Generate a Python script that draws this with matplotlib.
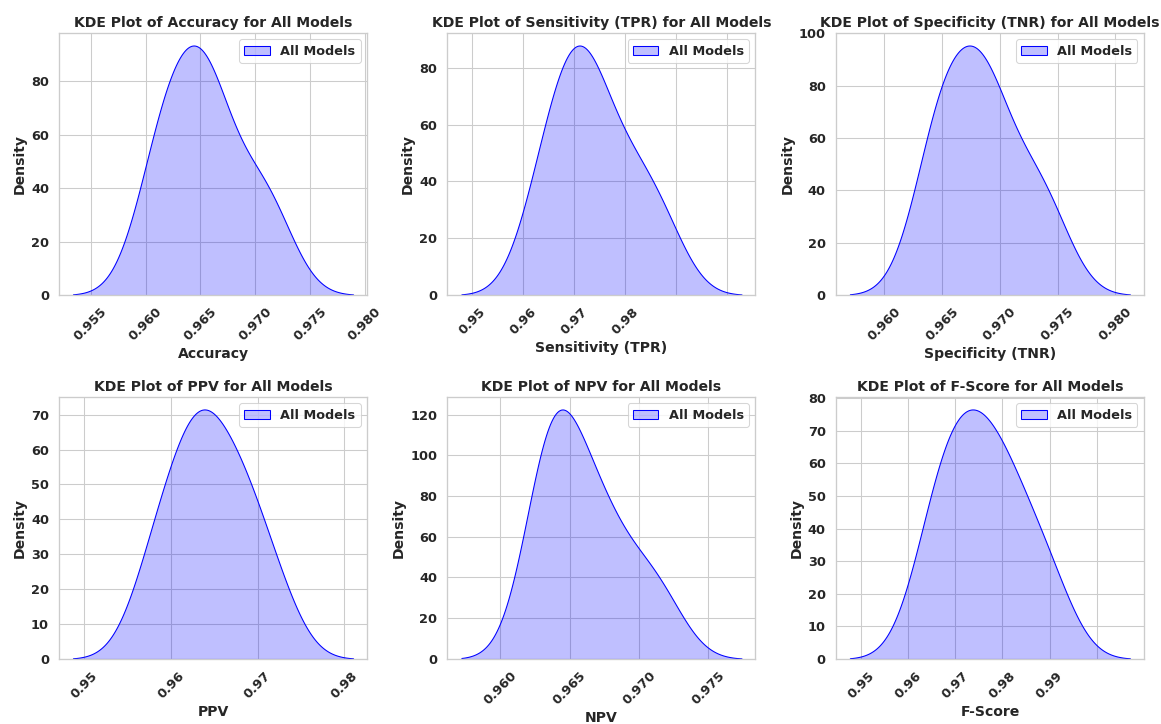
import matplotlib
matplotlib.use("Agg")
import matplotlib.pyplot as plt
import seaborn as sns
from matplotlib.ticker import FixedLocator, FixedFormatter

# per-model scores (estimated from the reference curves)
accuracy = [0.96067, 0.96206, 0.96302, 0.96521, 0.96558, 0.96603, 0.96946, 0.97164]
sensitivity = [0.96173, 0.96311, 0.96531, 0.96589, 0.96600, 0.96865, 0.97084, 0.97360]
specificity = [0.96398, 0.96515, 0.96579, 0.96829, 0.96847, 0.96924, 0.97218, 0.97430]
ppv = [0.95778, 0.96009, 0.96295, 0.96311, 0.96449, 0.96781, 0.96804, 0.97191]
npv = [0.96309, 0.96394, 0.96394, 0.96395, 0.96665, 0.96665, 0.96909, 0.97151]
f_score = [0.96229, 0.96381, 0.96599, 0.96632, 0.96878, 0.96981, 0.97210, 0.97505]

metric_names = ["Accuracy", "Sensitivity (TPR)", "Specificity (TNR)", "PPV", "NPV", "F-Score"]
metric_values = [accuracy, sensitivity, specificity, ppv, npv, f_score]

# x ticks and the labels shown under them
xticks = [
    [0.955, 0.960, 0.965, 0.970, 0.975, 0.980],
    [0.955, 0.960, 0.965, 0.970, 0.975, 0.980],
    [0.960, 0.965, 0.970, 0.975, 0.980],
    [0.95, 0.96, 0.97, 0.98],
    [0.960, 0.965, 0.970, 0.975],
    [0.955, 0.960, 0.965, 0.970, 0.975, 0.980],
]
xlabels = [
    ["0.955", "0.960", "0.965", "0.970", "0.975", "0.980"],
    ["0.95", "0.96", "0.97", "0.98", "", ""],
    ["0.960", "0.965", "0.970", "0.975", "0.980"],
    ["0.95", "0.96", "0.97", "0.98"],
    ["0.960", "0.965", "0.970", "0.975"],
    ["0.95", "0.96", "0.97", "0.98", "0.99", ""],
]

sns.set_theme(style="whitegrid", font_scale=1.11)
plt.rcParams["font.family"] = ["DejaVu Sans"]
plt.rcParams["font.weight"] = "bold"
plt.rcParams["axes.labelweight"] = "bold"
plt.rcParams["axes.titleweight"] = "bold"

fig, axes = plt.subplots(2, 3, figsize=(1161 / 76, 724 / 76), dpi=76)
fig.subplots_adjust(left=0.0508, right=0.9853, top=0.9544, bottom=0.0898,
                    wspace=0.261, hspace=0.389)

for ax, name, vals, ticks, labels in zip(axes.flat, metric_names, metric_values, xticks, xlabels):
    sns.kdeplot(vals, fill=True, color="blue", label="All Models", ax=ax)
    ax.set_title(f"KDE Plot of {name} for All Models")
    ax.set_xlabel(name)
    ax.set_ylabel("Density")
    ax.xaxis.set_major_locator(FixedLocator(ticks))
    ax.xaxis.set_major_formatter(FixedFormatter(labels))
    ax.tick_params(axis="x", rotation=45)
    ax.legend(loc="upper right")

fig.savefig("out.png", dpi=76)
